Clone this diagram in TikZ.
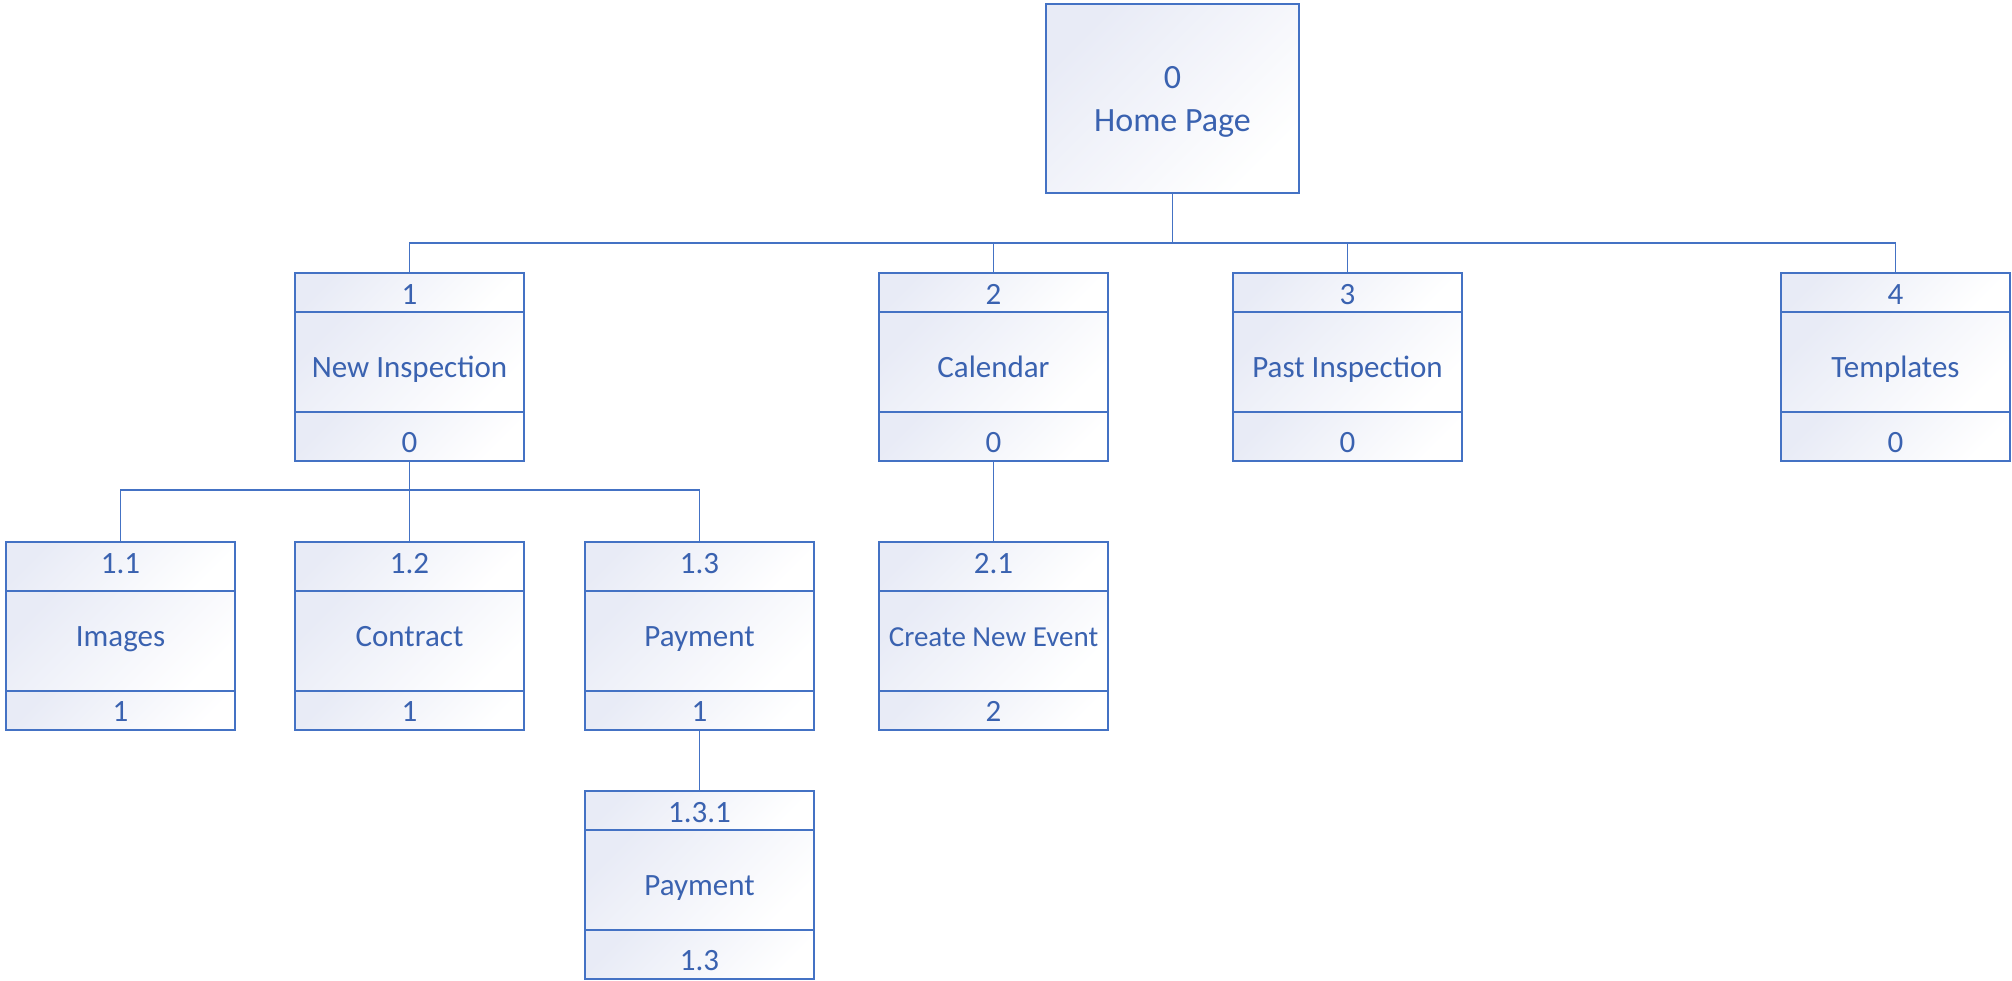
\documentclass[tikz,border=0pt]{standalone}
\usepackage{fontspec}
\setmainfont{Carlito}
\usetikzlibrary{calc}
\definecolor{lineblue}{HTML}{4472C4}
\definecolor{textblue}{HTML}{3A62B0}
\definecolor{boxshade}{HTML}{E8EBF6}
\tikzset{
  comp/.style={draw=lineblue, line width=1.8pt, rectangle, inner sep=0pt, outer sep=0pt,
    minimum width=229pt, top color=boxshade, bottom color=white, shading angle=45},
  lbl/.style={text=textblue, inner sep=0pt, anchor=center, text height=19.5pt, text depth=0pt,
    font=\fontsize{31}{36}\selectfont},
  biglbl/.style={lbl, text height=21.5pt, font=\fontsize{34}{40}\selectfont},
  wire/.style={draw=lineblue, line width=1.8pt},
}
% \ubox{name}{left}{top}{header h}{body h}{footer h}{number}{title}{parent}
\newcommand\ubox[9]{%
  \node[comp, minimum height=#4pt, anchor=north west] (#1h) at (#2,#3) {};
  \node[comp, minimum height=#5pt, anchor=north] (#1m) at (#1h.south) {};
  \node[comp, minimum height=#6pt, anchor=north] (#1f) at (#1m.south) {};
  \node[lbl] (#1-num) at ($(#2,#3)+(114.5,21.5)$) {#7};
  \node[lbl] (#1-title) at ($(#2,#3)+(114.5,95)$) {#8};
  \node[lbl] (#1-parent) at ($(#2,#3)+(114.5,170)$) {#9};
}
\begin{document}
\begin{tikzpicture}[x=1pt, y=-1pt]
\useasboundingbox (0,0) rectangle (2012,981);

% root
\node[comp, minimum width=253pt, minimum height=189pt, anchor=north west] (hp) at (1046,4) {};
\node[biglbl] (hp-num) at (1172.5,77.5) {0};
\node[biglbl] (hp-title) at (1172.5,121) {Home Page};

% first level
\ubox{a}{295}{273}{39}{100}{49}{1}{New Inspection}{0}
\ubox{b}{879}{273}{39}{100}{49}{2}{Calendar}{0}
\ubox{c}{1233}{273}{39}{100}{49}{3}{Past Inspection}{0}
\ubox{d}{1781}{273}{39}{100}{49}{4}{Templates}{0}

% second level
\ubox{aa}{6}{542}{49}{100}{39}{1.1}{Images}{1}
\ubox{ab}{295}{542}{49}{100}{39}{1.2}{Contract}{1}
\ubox{ac}{585}{542}{49}{100}{39}{1.3}{Payment}{1}
\ubox{ba}{879}{542}{49}{100}{39}{2.1}{\fontsize{29}{34}\selectfont Create New Event}{2}

% third level
\ubox{aca}{585}{791}{39}{100}{49}{1.3.1}{Payment}{1.3}

% connectors
\coordinate (busA) at (0,243);
\coordinate (busB) at (0,490);
\draw[wire] (hp.south) -- (hp.south |- busA);
\draw[wire] (ah.north) -- (ah.north |- busA) -- (dh.north |- busA) -- (dh.north);
\draw[wire] (bh.north) -- (bh.north |- busA);
\draw[wire] (ch.north) -- (ch.north |- busA);

\draw[wire] (af.south) -- (af.south |- busB);
\draw[wire] (aah.north) -- (aah.north |- busB) -- (ach.north |- busB) -- (ach.north);
\draw[wire] (abh.north) -- (abh.north |- busB);

\draw[wire] (bf.south) -- (bah.north);
\draw[wire] (acf.south) -- (acah.north);
\end{tikzpicture}
\end{document}
